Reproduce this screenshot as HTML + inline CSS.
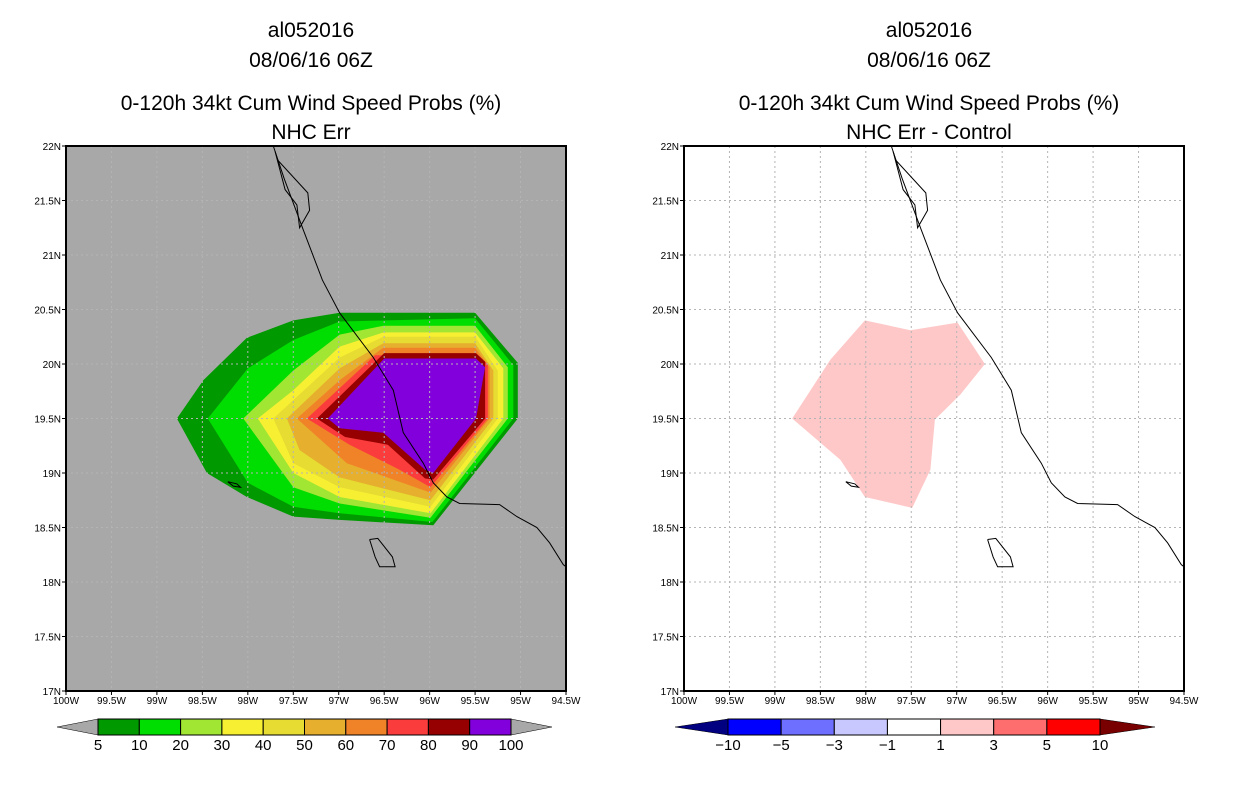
<!DOCTYPE html>
<html><head><meta charset="utf-8">
<style>
html,body{margin:0;padding:0;background:#fff;}
body{width:1236px;height:800px;overflow:hidden;font-family:"Liberation Sans",sans-serif;}
svg text{font-family:"Liberation Sans",sans-serif;}
</style></head>
<body>
<svg id="root" width="1236" height="800" viewBox="0 0 1236 800">
<g id="titles"></g>
<g id="mapL"></g>
<g id="mapR"></g>
<g id="cbL"></g>
<g id="cbR"></g>
</svg>
<script>
// ---- data ----
const lonTicks = [-100,-99.5,-99,-98.5,-98,-97.5,-97,-96.5,-96,-95.5,-95,-94.5];
const latTicks = [17,17.5,18,18.5,19,19.5,20,20.5,21,21.5,22];
const probLevels = [5,10,20,30,40,50,60,70,80,90,100];
const probColors = ["#009900","#00dd00","#a0e632","#f7f032","#e6dc32","#e6af2d","#f08228","#fa3c3c","#960000","#8200dc"];
const diffLevels = [-10,-5,-3,-1,1,3,5,10];
const diffColors = ["#0000ff","#6e6eff","#c8c8ff","#ffffff","#ffc8c8","#ff6e6e","#ff0000"];
const diffEnds = ["#000080","#780000"];
// contour polygons (lon, lat) enclosing each probability level
const contours = [
 [[-98.78,19.5],[-98.49,19.85],[-98.01,20.24],[-97.5,20.4],[-96.99,20.47],[-95.5,20.47],[-95.03,20.01],[-95.03,19.5],[-95.96,18.52],[-96.99,18.57],[-97.5,18.6],[-98.01,18.78],[-98.45,19.0]],
 [[-98.44,19.5],[-98.0,19.96],[-97.5,20.22],[-96.99,20.39],[-95.5,20.42],[-95.08,19.99],[-95.08,19.5],[-95.97,18.55],[-96.99,18.63],[-97.5,18.69],[-98.0,18.91]],
 [[-98.05,19.5],[-97.5,19.94],[-96.99,20.27],[-96.51,20.35],[-95.5,20.35],[-95.14,19.97],[-95.14,19.5],[-95.99,18.59],[-96.99,18.72],[-97.5,18.87]],
 [[-97.89,19.5],[-97.5,19.76],[-96.99,20.16],[-96.51,20.29],[-95.5,20.29],[-95.19,19.96],[-95.19,19.5],[-95.99,18.63],[-96.99,18.78],[-97.5,19.0]],
 [[-97.72,19.5],[-96.99,20.06],[-96.51,20.25],[-95.5,20.25],[-95.25,19.94],[-95.25,19.5],[-95.99,18.69],[-96.99,18.87],[-97.5,19.09]],
 [[-97.57,19.5],[-96.99,19.96],[-96.51,20.19],[-95.5,20.19],[-95.3,19.94],[-95.3,19.5],[-95.99,18.75],[-96.99,18.96],[-97.43,19.21]],
 [[-97.46,19.5],[-96.99,19.85],[-96.51,20.15],[-95.5,20.15],[-95.34,19.97],[-95.34,19.5],[-95.99,18.82],[-96.91,19.09]],
 [[-97.35,19.5],[-96.6,20.08],[-95.47,20.08],[-95.36,20.0],[-95.36,19.5],[-95.99,18.87],[-96.33,19.03],[-96.88,19.26]],
 [[-97.24,19.5],[-96.5,20.1],[-95.49,20.1],[-95.39,20.02],[-95.39,19.5],[-95.96,18.94],[-96.05,18.95],[-96.46,19.26],[-96.93,19.33]],
 [[-97.12,19.5],[-96.5,20.05],[-95.49,20.05],[-95.39,19.97],[-95.49,19.5],[-95.96,19.0],[-96.05,19.03],[-96.51,19.37],[-96.99,19.41]]
];
// difference field region (1..3)
const diffPoly = [[-98.81,19.5],[-98.39,20.04],[-98.01,20.4],[-97.51,20.31],[-96.99,20.38],[-96.69,20.0],[-96.96,19.72],[-97.24,19.49],[-97.29,19.03],[-97.49,18.68],[-98.01,18.78],[-98.28,19.12]];
// coastline
const coast = [[-97.72,22.0],[-97.6,21.7],[-97.39,21.23],[-97.18,20.77],[-96.99,20.47],[-96.62,20.06],[-96.4,19.76],[-96.29,19.37],[-96.07,19.09],[-95.96,18.91],[-95.81,18.78],[-95.67,18.72],[-95.23,18.71],[-95.04,18.6],[-94.82,18.5],[-94.68,18.36],[-94.53,18.16],[-94.5,18.14]];
const lagoon = [[-97.7,21.95],[-97.67,21.87],[-97.34,21.57],[-97.32,21.41],[-97.43,21.25],[-97.46,21.46],[-97.59,21.6],[-97.7,21.95]];
const island = [[-96.66,18.39],[-96.57,18.4],[-96.41,18.23],[-96.38,18.14],[-96.55,18.14],[-96.6,18.23],[-96.66,18.39]];
const smallIsland = [[-98.22,18.92],[-98.12,18.9],[-98.08,18.87],[-98.16,18.88],[-98.22,18.92]];

const NS="http://www.w3.org/2000/svg";
function mk(tag,attrs,parent){const e=document.createElementNS(NS,tag);for(const k in attrs)e.setAttribute(k,attrs[k]);if(parent)parent.appendChild(e);return e;}
const Y0=146,Y1=691;
const yS=lat=>Y0+(22-lat)*(Y1-Y0)/5;
function xS(x0){return lon=>x0+(lon+100)*500/5.5;}
function pts(arr,xs){return arr.map(p=>xs(p[0]).toFixed(1)+","+yS(p[1]).toFixed(1)).join(" ");}

// titles
const T=document.getElementById('titles');
const titleSets=[[311,["al052016","08/06/16 06Z","0-120h 34kt Cum Wind Speed Probs (%)","NHC Err"],"left"],[929,["al052016","08/06/16 06Z","0-120h 34kt Cum Wind Speed Probs (%)","NHC Err - Control"],"right"]];
const tys=[37,67,110,139];
titleSets.forEach(s=>{s[1].forEach((t,i)=>{const e=mk('text',{x:s[0],y:tys[i],'text-anchor':'middle','font-size':'21'},T);e.textContent=t;

});});

function drawMap(g,x0,isLeft){
 const xs=xS(x0);
 const bg=mk('rect',{x:x0,y:Y0,width:500,height:Y1-Y0,fill:isLeft?'#a8a8a8':'#ffffff'},g);
 
 
 if(isLeft){
  contours.forEach((c,i)=>{const p=mk('polygon',{points:pts(c,xs),fill:probColors[i]},g);
   
   });
 } else {
  const p=mk('polygon',{points:pts(diffPoly,xs),fill:diffColors[4]},g);
  
  
 }
 // grid
 lonTicks.slice(1,-1).forEach(l=>{const ln=mk('line',{x1:xs(l),x2:xs(l),y1:Y0,y2:Y1,stroke:'#b4b4b4','stroke-width':1,'stroke-dasharray':'2,3'},g);
  
  });
 latTicks.slice(1,-1).forEach(l=>{const ln=mk('line',{x1:x0,x2:x0+500,y1:yS(l),y2:yS(l),stroke:'#b4b4b4','stroke-width':1,'stroke-dasharray':'2,3'},g);
  
  });
 [coast,lagoon,island,smallIsland].forEach((c,i)=>{const pl=mk('polyline',{points:pts(c,xs),fill:'none',stroke:'#000','stroke-width':1},g);
  
  });
 const fr=mk('rect',{x:x0,y:Y0,width:500,height:Y1-Y0,fill:'none',stroke:'#000','stroke-width':2},g);
 
 
 lonTicks.forEach(l=>{mk('line',{x1:xs(l),x2:xs(l),y1:Y1,y2:Y1+4,stroke:'#000'},g);
  const t=mk('text',{x:xs(l),y:Y1+13,'text-anchor':'middle','font-size':'10'},g);t.textContent=Math.abs(l)+'W';
  
  });
 latTicks.forEach(l=>{mk('line',{x1:x0-4,x2:x0,y1:yS(l),y2:yS(l),stroke:'#000'},g);
  const t=mk('text',{x:x0-5,y:yS(l)+4,'text-anchor':'end','font-size':'10'},g);t.textContent=l+'N';
  
  });
}
drawMap(document.getElementById('mapL'),66,true);
drawMap(document.getElementById('mapR'),684,false);

function drawCB(g,xa,xb,tip0,tip1,cols,labels,endCols,y,h){
 const n=cols.length,w=(xb-xa)/n;
 const l=mk('polygon',{points:`${tip0},${y+h/2} ${xa},${y} ${xa},${y+h}`,fill:endCols[0],stroke:'#000','stroke-width':0.5},g);
 
 
 const r=mk('polygon',{points:`${tip1},${y+h/2} ${xb},${y} ${xb},${y+h}`,fill:endCols[1],stroke:'#000','stroke-width':0.5},g);
 
 
 cols.forEach((c,i)=>{const b=mk('rect',{x:xa+i*w,y:y,width:w,height:h,fill:c,stroke:'#000','stroke-width':1},g);
  
  });
 labels.forEach((t,i)=>{const tx=mk('text',{x:xa+i*w,y:y+h+15,'text-anchor':'middle','font-size':'15'},g);tx.textContent=String(t).replace('-','\u2212');
  
  });
}
drawCB(document.getElementById('cbL'),98,511,57,552,probColors,probLevels,['#a8a8a8','#a8a8a8'],719,16);
drawCB(document.getElementById('cbR'),728,1100,675,1155,diffColors,diffLevels,diffEnds,719,16);
</script>
</body></html>
